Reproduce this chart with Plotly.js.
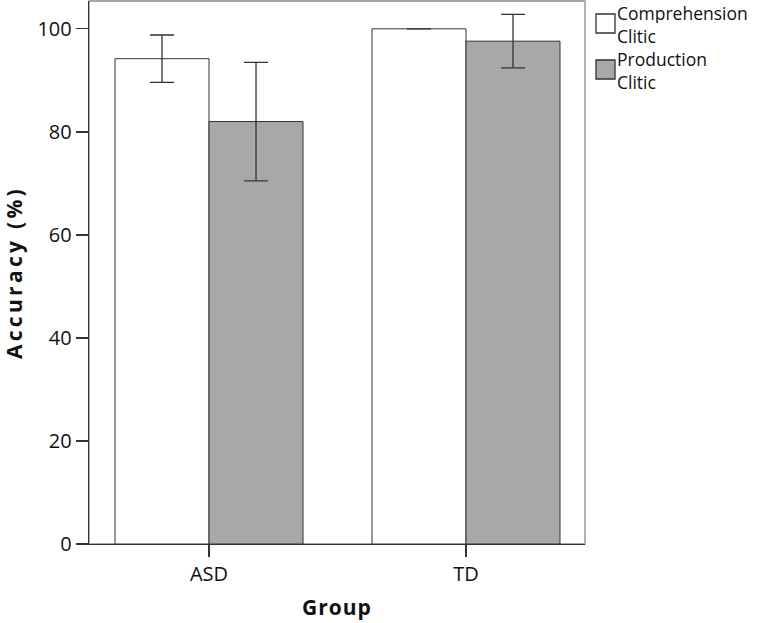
<!DOCTYPE html>
<html>
<head>
<meta charset="utf-8">
<script src="https://cdn.plot.ly/plotly-3.0.1.min.js"></script>
<style>
html,body{margin:0;padding:0;background:#fff;}
#chart .ytitle{letter-spacing:3.3px;}
#chart .xtitle{letter-spacing:1px;}
</style>
</head>
<body>
<div id="chart" style="width:774px;height:623px;"></div>
<script>
// Data
const groups = ["ASD", "TD"];
const comprehensionMean = [94.2, 100.0];
const comprehensionErr = [4.6, 0.0];
const productionMean = [82.0, 97.6];
const productionErr = [11.5, 5.2];
const legendLines = [["Comprehension", "Clitic"], ["Production", "Clitic"]];
const yTicks = [0, 20, 40, 60, 80, 100];

const FONT = "Open Sans, sans-serif";
const DARK = "#333333";
const TXT = "#111111";

const traces = [
  {
    type: "bar", name: legendLines[0].join(" "), x: groups, y: comprehensionMean,
    marker: {color: "#ffffff", line: {color: DARK, width: 1}},
    error_y: {type: "data", array: comprehensionErr, visible: true, color: DARK, thickness: 1.3, width: 12}
  },
  {
    type: "bar", name: legendLines[1].join(" "), x: groups, y: productionMean,
    marker: {color: "#a8a8a8", line: {color: DARK, width: 1}},
    error_y: {type: "data", array: productionErr, visible: true, color: DARK, thickness: 1.3, width: 12}
  }
];

const L = 89, R = 585, T = 1, B = 544;
const px = v => (v - L) / (R - L);
const py = v => (B - v) / (B - T);

const legendAnn = [];
const lineCenters = [[12.5, 35.5], [58.5, 81.5]];
legendLines.forEach((lines, i) => {
  lines.forEach((t, j) => {
    legendAnn.push({xref: "paper", yref: "paper", x: px(616), y: py(lineCenters[i][j]),
      xanchor: "left", yanchor: "middle", text: t, showarrow: false, align: "left",
      height: 20, borderpad: 0,
      font: {family: FONT, size: 17.5, color: TXT}});
  });
});

const layout = {
  width: 774, height: 623,
  margin: {l: L, r: 774 - R, t: T, b: 623 - B, pad: 0},
  paper_bgcolor: "#ffffff", plot_bgcolor: "#ffffff",
  font: {family: FONT, size: 20, color: TXT},
  showlegend: false,
  barmode: "group",
  bargap: 0.2685, bargroupgap: 0,
  xaxis: {
    type: "category", range: [-0.467, 1.463],
    showline: true, linecolor: DARK, linewidth: 1.3,
    ticks: "outside", ticklen: 12, tickcolor: DARK, tickwidth: 1.3,
    showgrid: false, zeroline: false,
    tickfont: {family: FONT, size: 20, color: TXT},
    title: {text: "<b>Group</b>", font: {family: FONT, size: 21, color: TXT}, standoff: 14}
  },
  yaxis: {
    range: [0, 105.4], tickvals: yTicks, ticktext: yTicks.map(String),
    showline: true, linecolor: DARK, linewidth: 1.3,
    ticks: "outside", ticklen: 12, tickcolor: DARK, tickwidth: 1.3,
    showgrid: false, zeroline: false,
    tickfont: {family: FONT, size: 20, color: TXT},
    title: {text: "<b>Accuracy (%)</b>", font: {family: FONT, size: 21, color: TXT}, standoff: 11}
  },
  shapes: [
    {type: "rect", xref: "paper", yref: "paper", x0: 0, x1: 1, y0: 0, y1: 1,
     line: {color: "#8a8a8a", width: 1.3}, layer: "below"},
    {type: "rect", xref: "paper", yref: "paper", x0: px(596), x1: px(615), y0: py(33), y1: py(14),
     fillcolor: "#ffffff", line: {color: DARK, width: 1.3}},
    {type: "rect", xref: "paper", yref: "paper", x0: px(596), x1: px(615), y0: py(79), y1: py(60),
     fillcolor: "#a8a8a8", line: {color: DARK, width: 1.3}}
  ],
  annotations: legendAnn
};

Plotly.newPlot("chart", traces, layout, {displayModeBar: false, staticPlot: true});
</script>
</body>
</html>
